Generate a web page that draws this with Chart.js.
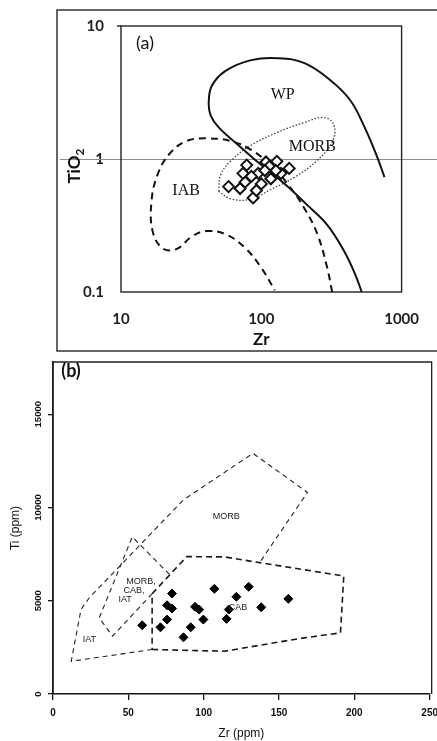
<!DOCTYPE html>
<html>
<head>
<meta charset="utf-8">
<script src="https://cdn.jsdelivr.net/npm/chart.js@4.4.0/dist/chart.umd.min.js"></script>
<style>
  html, body { margin: 0; padding: 0; background: #fff; overflow: hidden; width: 437px; height: 741px; }
  #chartA { position: absolute; left: 0; top: 0; }
  #chartB { position: absolute; left: 0; top: 355px; }
</style>
</head>
<body>
<canvas id="chartA" width="437" height="356"></canvas>
<canvas id="chartB" width="445" height="386"></canvas>
<script>
// ---- (a) TiO2 vs Zr (log-log) ----
const zrTicksA = [10, 100, 1000];
const zrTickLabelsA = ['10', '100', '1000'];
const tiO2TicksA = [0.1, 1, 10];
const tiO2TickLabelsA = ['0.1', '1', '10'];
const refTiO2 = 1;

const sampleZrA   = [78.7, 108, 129, 158, 58.4, 70.6, 87.4, 92.3, 76.6, 100, 117, 138, 95, 74, 114, 127, 85, 106];
const sampleTiO2A = [0.90, 0.95, 0.96, 0.85, 0.62, 0.60, 0.51, 0.58, 0.67, 0.65, 0.71, 0.78, 0.78, 0.78, 0.88, 0.82, 0.74, 0.82];

const wpZr   = [520, 465, 388, 295, 213, 147, 100, 68.7, 49.7, 43.6, 42.2, 44.4, 55.6, 84.7, 131, 203, 309, 428, 537, 662, 755];
const wpTiO2 = [0.1, 0.137, 0.204, 0.32, 0.45, 0.65, 0.90, 1.27, 1.73, 2.12, 2.65, 3.55, 4.6, 5.54, 5.73, 5.26, 3.93, 2.79, 1.79, 1.07, 0.73];

const iabZr   = [320, 295, 251, 203, 154, 117, 84.7, 61.4, 40.3, 29.1, 22.1, 18.2, 16.5, 16.8, 19.7, 24.8, 32.1, 40.3, 55.6, 76.9, 100, 125];
const iabTiO2 = [0.1, 0.152, 0.272, 0.425, 0.65, 0.90, 1.17, 1.36, 1.43, 1.36, 1.09, 0.76, 0.48, 0.287, 0.214, 0.21, 0.262, 0.287, 0.272, 0.214, 0.152, 0.103];

const morbZrA   = [49.7, 51.3, 61.4, 84.7, 131, 203, 281, 330, 320, 251, 173, 117, 84.7, 61.4, 49.7];
const morbTiO2A = [0.57, 0.76, 0.98, 1.27, 1.59, 1.88, 2.05, 1.79, 1.34, 0.98, 0.73, 0.59, 0.50, 0.50, 0.57];

const fieldNamesA  = ['WP', 'MORB', 'IAB'];
const fieldZrA     = [142, 231, 29.1];
const fieldTiO2A   = [3.04, 1.23, 0.578];

// ---- (b) Ti vs Zr (linear) ----
const zrTicksB = [0, 50, 100, 150, 200, 250];
const tiTicksB = [0, 5000, 10000, 15000];

const sampleZrB = [79.0, 107.1, 129.9, 121.7, 156.2, 138.2, 75.7, 79.0, 94.3, 97.0, 116.7, 75.7, 99.8, 115.2, 71.3, 91.4, 86.6, 59.2];
const sampleTiB = [5386, 5638, 5746, 5209, 5101, 4650, 4758, 4580, 4672, 4527, 4527, 3990, 3990, 4027, 3576, 3576, 3040, 3684];

const cabZr = [65.8, 114.0, 162.3, 190.8, 193.0, 137.1, 114.0, 88.8, 65.8, 65.8];
const cabTi = [2384, 2294, 2957, 3280, 6326, 7043, 7348, 7366, 5376, 2384];

const outerZr = [65.8, 12.1, 18.6, 24.1, 86.6, 132.7, 168.9, 137.1];
const outerTi = [2384, 1756, 4534, 5161, 10412, 12903, 10806, 7043];

const mixZr = [65.8, 39.5, 30.7, 52.6, 77.9];
const mixTi = [5376, 3100, 4086, 8423, 6362];

const fieldNamesB = ['MORB', 'MORB,', 'CAB,', 'IAT', 'CAB', 'IAT'];
const fieldZrB    = [115, 58.4, 53.8, 47.9, 122.8, 24.1];
const fieldTiB    = [9522, 6032, 5548, 5064, 4635, 2916];

const toPoints = (xs, ys) => xs.map((x, i) => ({ x: x, y: ys[i] }));

// --- plugin gambar bingkai dan label (a) ---
const decorA = {
  id: 'decorA',
  beforeDatasetsDraw(chart) {
    const { ctx, chartArea: a, scales: { y } } = chart;
    ctx.save();
    ctx.strokeStyle = '#333';
    ctx.lineWidth = 1.5;
    ctx.beginPath();
    ctx.moveTo(440, 10); ctx.lineTo(57, 10); ctx.lineTo(57, 351); ctx.lineTo(440, 351);
    ctx.stroke();
    // garis biru di TiO2 = 1
    const yy = Math.round(y.getPixelForValue(refTiO2)) + 0.5;
    ctx.strokeStyle = '#7d87c9';
    ctx.lineWidth = 1;
    ctx.beginPath(); ctx.moveTo(60, yy); ctx.lineTo(437, yy); ctx.stroke();
    // kotak plot
    ctx.strokeStyle = '#222';
    ctx.lineWidth = 1.4;
    ctx.strokeRect(a.left, a.top, a.right - a.left, a.bottom - a.top);
    ctx.beginPath(); ctx.moveTo(a.left - 4, a.top); ctx.lineTo(a.left, a.top); ctx.stroke();
    ctx.restore();
  },
  afterDatasetsDraw(chart) {
    const { ctx, scales: { x, y } } = chart;
    ctx.save();
    ctx.fillStyle = '#111';
    ctx.textAlign = 'center';
    ctx.textBaseline = 'middle';
    ctx.font = '16px "Liberation Serif", serif';
    fieldNamesA.forEach((t, i) => {
      ctx.fillText(t, x.getPixelForValue(fieldZrA[i]), y.getPixelForValue(fieldTiO2A[i]));
    });
    ctx.font = '18px Lato, sans-serif';
    ctx.fillText('(a)', 145, 43);
    // judul sumbu y dengan subskrip
    ctx.translate(75, 166);
    ctx.rotate(-Math.PI / 2);
    ctx.font = 'bold 17px Lato, sans-serif';
    ctx.textAlign = 'left';
    const w1 = ctx.measureText('TiO').width;
    ctx.font = 'bold 12px Lato, sans-serif';
    const w2 = ctx.measureText('2').width;
    const start = -(w1 + w2) / 2;
    ctx.font = 'bold 17px Lato, sans-serif';
    ctx.fillText('TiO', start, 0);
    ctx.font = 'bold 12px Lato, sans-serif';
    ctx.fillText('2', start + w1, 5);
    ctx.restore();
  }
};

new Chart(document.getElementById('chartA'), {
  type: 'scatter',
  data: {
    datasets: [
      { label: 'Samples', data: toPoints(sampleZrA, sampleTiO2A), pointStyle: 'rectRot', pointRadius: 5.5,
        borderColor: '#111', backgroundColor: '#fff', borderWidth: 2 },
      { label: 'WP', data: toPoints(wpZr, wpTiO2), showLine: true, pointRadius: 0,
        borderColor: '#111', borderWidth: 2, tension: 0.4, fill: false },
      { label: 'IAB', data: toPoints(iabZr, iabTiO2), showLine: true, pointRadius: 0,
        borderColor: '#111', borderWidth: 2, borderDash: [7, 5], tension: 0.4, fill: false },
      { label: 'MORB', data: toPoints(morbZrA, morbTiO2A), showLine: true, pointRadius: 0,
        borderColor: '#3a3f5a', borderWidth: 1.3, borderDash: [1.5, 1.8], tension: 0.4, fill: false }
    ]
  },
  options: {
    responsive: false,
    animation: false,
    layout: { padding: { left: 0, top: 23, right: 32, bottom: 0 } },
    plugins: { legend: { display: false }, tooltip: { enabled: false } },
    scales: {
      x: {
        type: 'logarithmic', min: 10, max: 1000,
        grid: { display: false, drawTicks: false }, border: { display: false },
        afterBuildTicks: s => { s.ticks = zrTicksA.map(v => ({ value: v })); },
        afterFit: s => { s.height = 64; },
        ticks: { padding: 18, color: '#222', autoSkip: false, maxRotation: 0,
                 font: { family: 'Lato', size: 15, weight: 'bold' },
                 callback: (v, i) => zrTickLabelsA[i] },
        title: { display: true, text: 'Zr', color: '#111', padding: { top: 0, bottom: 6 },
                 font: { family: 'Lato', size: 17, weight: 'bold' } }
      },
      y: {
        type: 'logarithmic', min: 0.1, max: 10,
        grid: { display: false, drawTicks: false }, border: { display: false },
        afterBuildTicks: s => { s.ticks = tiO2TicksA.map(v => ({ value: v })); },
        afterFit: s => { s.width = 121; },
        ticks: { padding: 17, color: '#222', autoSkip: false,
                 font: { family: 'Lato', size: 15, weight: 'bold' },
                 callback: (v, i) => tiO2TickLabelsA[i] }
      }
    }
  },
  plugins: [decorA]
});

// --- plugin gambar bingkai dan label (b) ---
const decorB = {
  id: 'decorB',
  beforeDatasetsDraw(chart) {
    const { ctx, chartArea: a } = chart;
    ctx.save();
    ctx.strokeStyle = '#222';
    ctx.lineWidth = 1.3;
    ctx.beginPath();
    ctx.moveTo(a.left, a.bottom); ctx.lineTo(a.left, a.top); ctx.lineTo(a.right + 2, a.top); ctx.lineTo(a.right + 2, a.bottom);
    ctx.stroke();
    ctx.restore();
  },
  afterDatasetsDraw(chart) {
    const { ctx, scales: { x, y } } = chart;
    ctx.save();
    ctx.fillStyle = '#222';
    ctx.textAlign = 'center';
    ctx.textBaseline = 'middle';
    ctx.font = '9px "Liberation Sans", Arial, sans-serif';
    fieldNamesB.forEach((t, i) => {
      ctx.fillText(t, x.getPixelForValue(fieldZrB[i]), y.getPixelForValue(fieldTiB[i]));
    });
    ctx.fillStyle = '#111';
    ctx.font = 'bold 18px Lato, sans-serif';
    ctx.fillText('(b)', 71, 16);
    ctx.restore();
  }
};

new Chart(document.getElementById('chartB'), {
  type: 'scatter',
  data: {
    datasets: [
      { label: 'Samples', data: toPoints(sampleZrB, sampleTiB), pointStyle: 'rectRot', pointRadius: 4.5,
        borderColor: '#000', backgroundColor: '#000', borderWidth: 1 },
      { label: 'CAB', data: toPoints(cabZr, cabTi), showLine: true, pointRadius: 0,
        borderColor: '#1a1a1a', borderWidth: 1.6, borderDash: [6, 4], fill: false },
      { label: 'MORB', data: toPoints(outerZr, outerTi), showLine: true, pointRadius: 0,
        borderColor: '#222', borderWidth: 1.1, borderDash: [5, 4], fill: false },
      { label: 'MORB, CAB, IAT', data: toPoints(mixZr, mixTi), showLine: true, pointRadius: 0,
        borderColor: '#222', borderWidth: 1.1, borderDash: [5, 4], fill: false }
    ]
  },
  options: {
    responsive: false,
    animation: false,
    layout: { padding: { left: 0, top: 7, right: 12, bottom: 0 } },
    plugins: { legend: { display: false }, tooltip: { enabled: false } },
    scales: {
      x: {
        type: 'linear', min: 0, max: 250,
        grid: { display: true, drawOnChartArea: false, drawTicks: true, tickLength: 6, color: '#111', lineWidth: 1.3 },
        border: { display: true, color: '#111', width: 1.6 },
        afterBuildTicks: s => { s.ticks = zrTicksB.map(v => ({ value: v })); },
        afterFit: s => { s.height = 47; },
        ticks: { padding: 7, color: '#111', autoSkip: false, maxRotation: 0,
                 font: { family: 'Liberation Sans', size: 10, weight: 'bold' },
                 callback: v => String(v) },
        title: { display: true, text: 'Zr (ppm)', color: '#111', padding: { top: 0, bottom: 0 },
                 font: { family: 'Liberation Sans', size: 12 } }
      },
      y: {
        type: 'linear', min: 0, max: 17800,
        grid: { display: true, drawOnChartArea: false, drawTicks: true, tickLength: 5, color: '#111', lineWidth: 1.3 },
        border: { display: true, color: '#111', width: 1.6 },
        afterBuildTicks: s => { s.ticks = tiTicksB.map(v => ({ value: v })); },
        afterFit: s => { s.width = 53; },
        ticks: { padding: -4, color: '#111', autoSkip: false, minRotation: 90, maxRotation: 90, crossAlign: 'center',
                 font: { family: 'Liberation Sans', size: 9.5, weight: 'bold' },
                 callback: v => String(v) },
        title: { display: true, text: 'Ti (ppm)', color: '#111', padding: { top: 8, bottom: 0 },
                 font: { family: 'Liberation Sans', size: 12 } }
      }
    }
  },
  plugins: [decorB]
});
</script>
</body>
</html>
